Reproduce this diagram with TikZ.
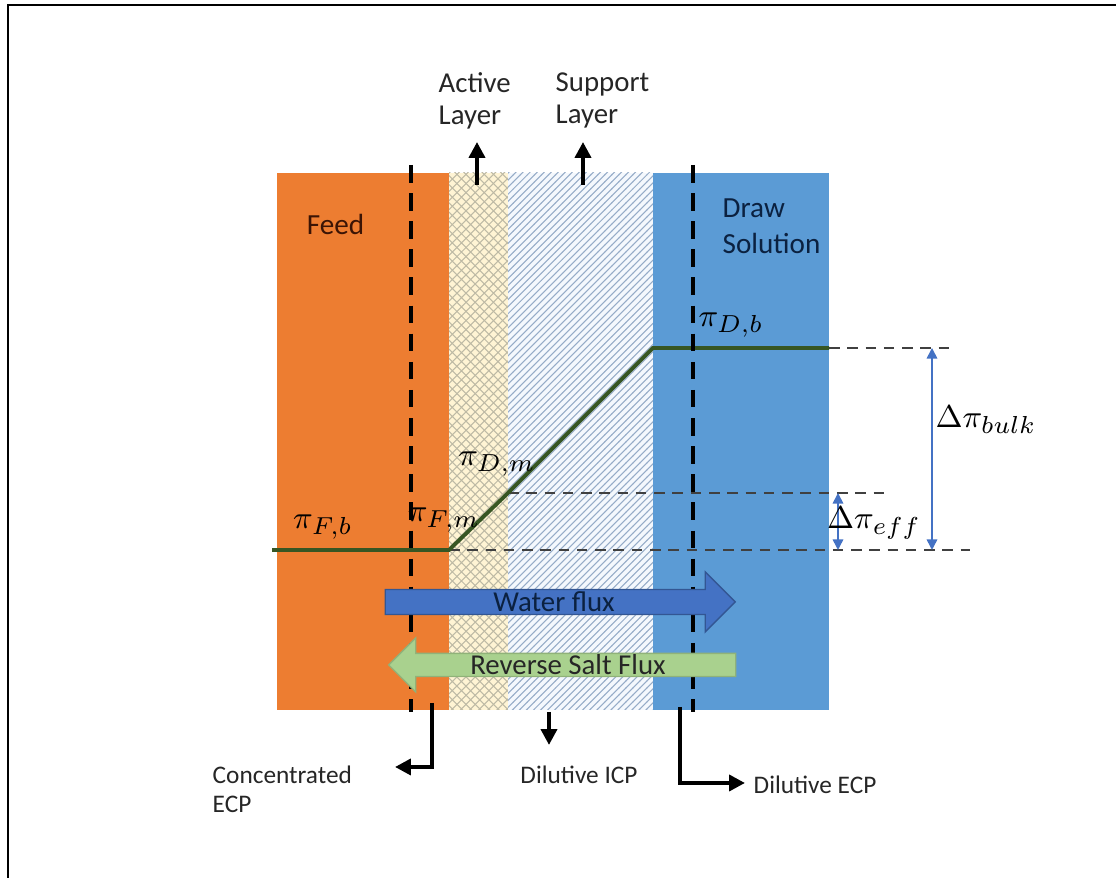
\documentclass[tikz,border=0pt]{standalone}
\usepackage{fontspec}
\setmainfont{Carlito}
\usetikzlibrary{arrows.meta,positioning,patterns,shapes.arrows}
\definecolor{feedorange}{RGB}{237,125,49}
\definecolor{drawblue}{RGB}{91,155,213}
\definecolor{activebg}{RGB}{255,244,212}
\definecolor{activehatch}{RGB}{190,186,165}
\definecolor{supportbg}{RGB}{244,248,253}
\definecolor{supporthatch}{RGB}{150,172,200}
\definecolor{profgreen}{RGB}{55,86,35}
\definecolor{dimblue}{RGB}{68,114,196}
\definecolor{waterblue}{RGB}{68,114,196}
\definecolor{saltgreen}{RGB}{169,209,142}
\definecolor{feedtext}{RGB}{59,20,5}
\definecolor{drawtext}{RGB}{11,33,64}
\pgfdeclarepatternformonly{fine ne lines}{\pgfqpoint{-1pt}{-1pt}}{\pgfqpoint{3pt}{3pt}}{\pgfqpoint{2pt}{2pt}}{%
  \pgfsetlinewidth{0.3pt}\pgfpathmoveto{\pgfqpoint{0pt}{0pt}}\pgfpathlineto{\pgfqpoint{2.1pt}{2.1pt}}\pgfusepath{stroke}}
\pgfdeclarepatternformonly{fine crosshatch}{\pgfqpoint{-1pt}{-1pt}}{\pgfqpoint{3.6pt}{3.6pt}}{\pgfqpoint{2.6pt}{2.6pt}}{%
  \pgfsetlinewidth{0.3pt}\pgfpathmoveto{\pgfqpoint{2.61pt}{0pt}}\pgfpathlineto{\pgfqpoint{0pt}{2.61pt}}%
  \pgfpathmoveto{\pgfqpoint{0pt}{0pt}}\pgfpathlineto{\pgfqpoint{2.61pt}{2.61pt}}\pgfusepath{stroke}}

\begin{document}
\begin{tikzpicture}[>=Stealth,
  layer/.style={rectangle, inner sep=0pt, outer sep=0pt, minimum height=5.37cm},
  bl/.style={line width=0.9pt, dash pattern=on 5pt off 3pt},
  guide/.style={black!75, line width=0.5pt, dash pattern=on 3pt off 2.2pt},
  profile/.style={profgreen, line width=1.1pt},
  dim/.style={dimblue, line width=0.45pt, {Triangle[length=3pt,width=3pt]}-{Triangle[length=3pt,width=3pt]}},
  pointer/.style={line width=1.1pt, -{Triangle[length=4.5pt,width=4.5pt]}},
  sym/.style={font=\fontsize{9.5}{11}\selectfont},
  toplbl/.style={font=\fontsize{8.2}{9.2}\selectfont, text=black!85, align=left, inner sep=0pt},
  botlbl/.style={font=\fontsize{7.2}{8.2}\selectfont, text=black!85, align=left, inner sep=0pt},
  flux/.style={single arrow, inner sep=0pt, font=\fontsize{8.2}{9.5}\selectfont}]
  \useasboundingbox (0,0) rectangle (11.16,8.78);
  \draw[line width=0.6pt] (0.08,-0.2) |- (11.4,8.73);

  % membrane and the two solutions
  \node[layer, fill=feedorange, minimum width=1.72cm, anchor=south west] (feed) at (2.77,1.68) {};
  \node[layer, fill=activebg, postaction={pattern=fine crosshatch, pattern color=activehatch}, minimum width=0.59cm, right=0pt of feed] (active) {};
  \node[layer, fill=supportbg, postaction={pattern=fine ne lines, pattern color=supporthatch}, minimum width=1.45cm, right=0pt of active] (support) {};
  \node[layer, fill=drawblue, minimum width=1.76cm, right=0pt of support] (drawsol) {};
  \node[font=\fontsize{8.3}{10}\selectfont, text=feedtext] (feedlbl) at (3.355,6.54) {Feed};
  \node[font=\fontsize{8.3}{10.2}\selectfont, text=drawtext, align=left, inner sep=0pt, anchor=north west] (drawlbl) at (7.22,6.80) {Draw\\Solution};

  % osmotic pressure profile
  \coordinate (pfb) at (2.72,3.28);
  \coordinate (pfm) at (4.49,3.28);
  \coordinate (pdm) at (5.08,3.85);
  \coordinate (pdb) at (6.53,5.30);
  \coordinate (pde) at (8.29,5.30);
  \coordinate (g1) at (9.55,5.30);
  \coordinate (g2) at (8.88,3.85);
  \coordinate (g3) at (9.70,3.28);
  \draw[guide] (pde) -- (g1);
  \draw[guide] (pdm) -- (g2);
  \draw[guide] (pfm) -- (g3);
  \draw[profile] (pfb) -- (pfm) -- (pdm) -- (pdb) -- (pde);
  \foreach \x in {4.11,6.93} \draw[bl] (\x,7.13) -- (\x,1.66);

  \node[sym] (pFb) at (3.23,3.51) {$\pi_{F,b}$};
  \node[sym] (pFm) at (4.44,3.58) {$\pi_{F,m}$};
  \node[sym] (pDm) at (4.97,4.14) {$\pi_{D,m}$};
  \node[sym] (pDb) at (7.31,5.53) {$\pi_{D,b}$};

  \coordinate (bulk-t) at (9.32,5.30);
  \coordinate (bulk-b) at (9.32,3.28);
  \coordinate (eff-t) at (8.38,3.85);
  \coordinate (eff-b) at (8.38,3.28);
  \draw[dim] (bulk-t) -- (bulk-b);
  \draw[dim] (eff-t) -- (eff-b);
  \node[sym] (dbulk) at (9.86,4.58) {$\Delta\pi_{bulk}$};
  \node[sym] (deff) at (8.74,3.55) {$\Delta\pi_{eff}$};

  % fluxes
  \node[flux, fill=waterblue, draw=waterblue!75!black, text=drawtext, minimum height=3.5cm, minimum width=0.6cm, single arrow head extend=0.15cm] (water) at (5.54,2.76) {Water flux};
  \node[flux, fill=saltgreen, draw=saltgreen!85!black, text=black!85, shape border rotate=180, minimum height=3.47cm, minimum width=0.54cm, single arrow head extend=0.145cm] (salt) at (5.68,2.13) {Reverse Salt Flux};

  % layer names
  \node[toplbl, anchor=north west] (actlbl) at (4.38,8.06) {Active\\Layer};
  \node[toplbl, anchor=north west] (suplbl) at (5.55,8.06) {Support\\Layer};
  \coordinate (act-a) at (4.77,6.93);
  \coordinate (act-b) at (4.77,7.36);
  \coordinate (sup-a) at (5.83,6.93);
  \coordinate (sup-b) at (5.83,7.36);
  \draw[pointer] (act-a) -- (act-b);
  \draw[pointer] (sup-a) -- (sup-b);

  % polarisation labels
  \coordinate (cecp-a) at (4.32,1.75);
  \coordinate (cecp-b) at (3.95,1.11);
  \coordinate (icp-a) at (5.49,1.66);
  \coordinate (icp-b) at (5.49,1.33);
  \coordinate (decp-a) at (6.80,1.71);
  \coordinate (decp-b) at (7.45,0.95);
  \draw[pointer] (cecp-a) |- (cecp-b);
  \draw[pointer] (icp-a) -- (icp-b);
  \draw[pointer] (decp-a) |- (decp-b);
  \node[botlbl, anchor=west] (cecp) at (2.12,0.89) {Concentrated\\ECP};
  \node[botlbl] (icp) at (5.79,1.03) {Dilutive ICP};
  \node[botlbl, anchor=west] (decp) at (7.53,0.93) {Dilutive ECP};
\end{tikzpicture}
\end{document}
